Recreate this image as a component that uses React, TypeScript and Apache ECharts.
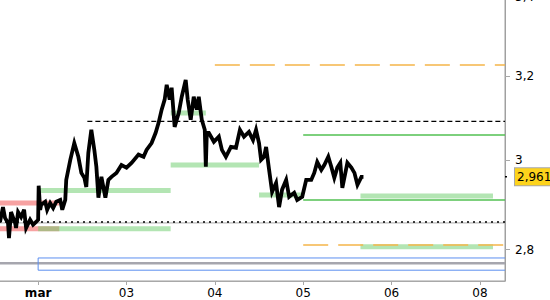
import React, { useEffect, useRef } from "react";
import * as echarts from "echarts";

// X axis: trading-day positions (0 = "mar" session start)
const DAY_TICKS = [0, 1, 2, 3, 4, 5];
const DAY_LABELS = ["mar", "03", "04", "05", "06", "08"];
const X_MIN = -0.443;
const X_MAX = 5.284;

// Y axis (log scale)
const PRICE_TICKS = [2.8, 3, 3.2, 3.4];
const PRICE_TICK_LABELS = ["2,8", "3", "3,2", "3,4"];
const Y_MIN = 2.7332;
const Y_MAX = 3.4;
const LAST_PRICE = 2.961;
const LAST_LABEL = "2,961";

// Price path (day position, price)
const priceT = [
  -0.443, -0.432, -0.398, -0.375, -0.341, -0.33, -0.307, -0.261, -0.25, -0.227,
  -0.193, -0.159, -0.136, -0.091, -0.057, -0.023, 0, 0.006, 0.023, 0.034,
  0.08, 0.102, 0.136, 0.17, 0.205, 0.25, 0.273, 0.307, 0.318, 0.364,
  0.409, 0.455, 0.489, 0.523, 0.545, 0.568, 0.602, 0.636, 0.659, 0.682,
  0.716, 0.761, 0.795, 0.83, 0.886, 0.943, 1.0, 1.057, 1.136, 1.193,
  1.227, 1.284, 1.33, 1.364, 1.398, 1.432, 1.455, 1.489, 1.511, 1.545,
  1.591, 1.625, 1.67, 1.693, 1.727, 1.761, 1.795, 1.818, 1.852, 1.886,
  1.898, 1.909, 1.932, 1.989, 2.045, 2.08, 2.125, 2.182, 2.239, 2.284,
  2.33, 2.386, 2.432, 2.466, 2.5, 2.523, 2.557, 2.58, 2.614, 2.648,
  2.693, 2.727, 2.761, 2.807, 2.841, 2.898, 2.932, 2.989, 3.034, 3.091,
  3.125, 3.159, 3.205, 3.239, 3.284, 3.318, 3.352, 3.386, 3.42, 3.443,
  3.5, 3.545, 3.58, 3.614, 3.659, 3.682,
];
const priceV = [
  2.876, 2.86, 2.893, 2.869, 2.858, 2.825, 2.882, 2.858, 2.847, 2.882,
  2.871, 2.887, 2.847, 2.865, 2.854, 2.86, 2.865, 2.941, 2.887, 2.898,
  2.905, 2.887, 2.902, 2.891, 2.905, 2.909, 2.887, 2.909, 2.954, 3.0,
  3.039, 3.007, 2.97, 2.959, 2.938, 3.016, 3.07, 3.023, 2.984, 2.914,
  2.961, 2.914, 2.954, 2.961, 2.97, 2.988, 2.982, 2.993, 3.012, 3.007,
  3.023, 3.039, 3.063, 3.087, 3.118, 3.142, 3.178, 3.142, 3.171, 3.077,
  3.11, 3.149, 3.19, 3.142, 3.094, 3.149, 3.118, 3.149, 3.094, 3.07,
  2.984, 3.063, 3.063, 3.042, 3.054, 3.023, 3.007, 3.03, 3.028, 3.07,
  3.054, 3.065, 3.046, 3.07, 3.039, 3.0, 3.007, 3.03, 2.977, 2.927,
  2.947, 2.893, 2.932, 2.954, 2.916, 2.925, 2.909, 2.916, 2.954, 2.954,
  2.97, 2.995, 2.977, 2.988, 3.007, 2.984, 2.959, 2.982, 2.993, 2.936,
  2.993, 2.982, 2.97, 2.943, 2.961, 2.961,
];

// Levels: [start day, end day, price]
const resistanceDashed = [[0.557, X_MAX, 3.09]];
const orangeDashed = [
  [2.0, X_MAX, 3.227],
  [3.0, X_MAX, 2.81],
];
const greenThin = [
  [3.0, X_MAX, 3.058],
  [3.0, X_MAX, 2.909],
];
const dottedLevel = [[X_MIN, X_MAX, 2.86]];
const grayThin = [[X_MIN, X_MAX, 2.858]];
const grayThick = [[X_MIN, X_MAX, 2.771]];
const redBands = [
  [X_MIN, 0.239, 2.902],
  [X_MIN, 0.239, 2.845],
];
const greenBands = [
  [0, 1.5, 2.93],
  [1.5, 2.5, 2.988],
  [1.5, 1.898, 3.11],
  [2.5, 3.0, 2.92],
  [3.648, 5.148, 2.918],
  [0, 1.5, 2.845],
  [3.648, 5.148, 2.806],
];
// Blue zone: [start day, end day, low, high]
const blueZone = [0, X_MAX, 2.756, 2.782];

const FONT = "DejaVu Sans";
const L = (p: number) => Math.log(p);
const TICK_DAYS = 0.08; // length of the last-price tick beyond the axis

function segSeries(list: number[][], lineStyle: any, z: number) {
  return list.map((s) => ({
    type: "line",
    data: [
      [s[0], L(s[2])],
      [s[1], L(s[2])],
    ],
    symbol: "none",
    silent: true,
    lineStyle,
    z,
  }));
}

export default function App() {
  const ref = useRef<HTMLDivElement>(null);
  useEffect(() => {
    if (!ref.current) return;
    const chart = echarts.init(ref.current, undefined, { renderer: "svg" });
    const priceData = priceT.map((t, i) => [t, L(priceV[i])]);
    const yTickVals = PRICE_TICKS.map(L);
    const lastLog = L(LAST_PRICE);
    const yLabelVals = [...yTickVals, lastLog];
    const series: any[] = [
      // last-price tick
      {
        type: "line",
        data: [
          [X_MAX, lastLog],
          [X_MAX + TICK_DAYS, lastLog],
        ],
        symbol: "none",
        silent: true,
        clip: false,
        lineStyle: { color: "#000", width: 1.5 },
        z: 20,
      },
      ...segSeries(grayThick, { color: "#a6a6ae", width: 2.5 }, 1),
      {
        type: "line",
        data: [
          [blueZone[1], L(blueZone[3])],
          [blueZone[0], L(blueZone[3])],
          [blueZone[0], L(blueZone[2])],
          [blueZone[1], L(blueZone[2])],
        ],
        symbol: "none",
        silent: true,
        lineStyle: { color: "#5b8ff0", width: 1 },
        z: 2,
      },
      ...segSeries(grayThin, { color: "#a8a8a8", width: 1 }, 1),
      ...segSeries(dottedLevel, { color: "#000", width: 1.5, type: [2, 4] }, 3),
      ...segSeries(redBands, { color: "rgba(240,70,70,0.5)", width: 5 }, 2),
      ...segSeries(greenBands, { color: "rgba(110,206,110,0.52)", width: 5 }, 3),
      ...segSeries(resistanceDashed, { color: "#000", width: 1.3, type: [5, 3] }, 3),
      ...segSeries(orangeDashed, { color: "#f5b54a", width: 1.5, type: [25, 10] }, 3),
      ...segSeries(greenThin, { color: "#52c052", width: 1.5 }, 3),
      {
        type: "line",
        data: priceData,
        symbol: "none",
        lineStyle: { color: "#000", width: 3.8, join: "miter" },
        z: 10,
      },
    ];
    chart.setOption({
      animation: false,
      grid: {
        show: true,
        borderColor: "#a0a0a0",
        borderWidth: 1,
        backgroundColor: "transparent",
        left: -1,
        right: 45,
        top: -3,
        bottom: 19,
        containLabel: false,
        outerBoundsMode: "none",
      },
      xAxis: {
        type: "value",
        min: X_MIN,
        max: X_MAX,
        splitLine: { show: false },
        axisLine: { onZero: false, lineStyle: { color: "#a8a8a8" } },
        axisTick: {
          customValues: DAY_TICKS,
          length: 4,
          lineStyle: { color: "#a8a8a8" },
        },
        axisLabel: {
          customValues: DAY_TICKS,
          margin: 6,
          color: "#000",
          fontFamily: FONT,
          fontSize: 12,
          formatter: (v: number) => {
            const i = DAY_TICKS.findIndex((d) => Math.abs(d - v) < 1e-6);
            if (i < 0) return "";
            return i === 0 ? "{b|" + DAY_LABELS[i] + "}" : DAY_LABELS[i];
          },
          rich: {
            b: { fontWeight: "bold", fontFamily: FONT, fontSize: 12, color: "#000" },
          },
        },
      },
      yAxis: {
        type: "value",
        position: "right",
        min: L(Y_MIN),
        max: L(Y_MAX),
        splitLine: { show: false },
        axisLine: { show: true, onZero: false, lineStyle: { color: "#a0a0a0", width: 1 } },
        axisTick: {
          show: true,
          customValues: yTickVals,
          length: 5,
          lineStyle: { color: "#a8a8a8" },
        },
        axisLabel: {
          customValues: yLabelVals,
          margin: 10,
          color: "#000",
          fontFamily: FONT,
          fontSize: 12,
          hideOverlap: false,
          formatter: (v: number) => {
            if (Math.abs(v - lastLog) < 1e-6) return "{p|" + LAST_LABEL + "}";
            const i = yTickVals.findIndex((d) => Math.abs(d - v) < 1e-6);
            return i < 0 ? "" : PRICE_TICK_LABELS[i];
          },
          rich: {
            p: {
              color: "#000",
              fontFamily: FONT,
              fontSize: 12,
              backgroundColor: "#fdd31c",
              borderColor: "#a8a8a8",
              borderWidth: 1,
              padding: [3, 2, 2, 2],
            },
          },
        },
      },
      series,
    });
    return () => chart.dispose();
  }, []);
  return (
    <div
      ref={ref}
      style={{ position: "fixed", left: 0, top: 0, width: 550, height: 300, background: "#fff" }}
    />
  );
}
